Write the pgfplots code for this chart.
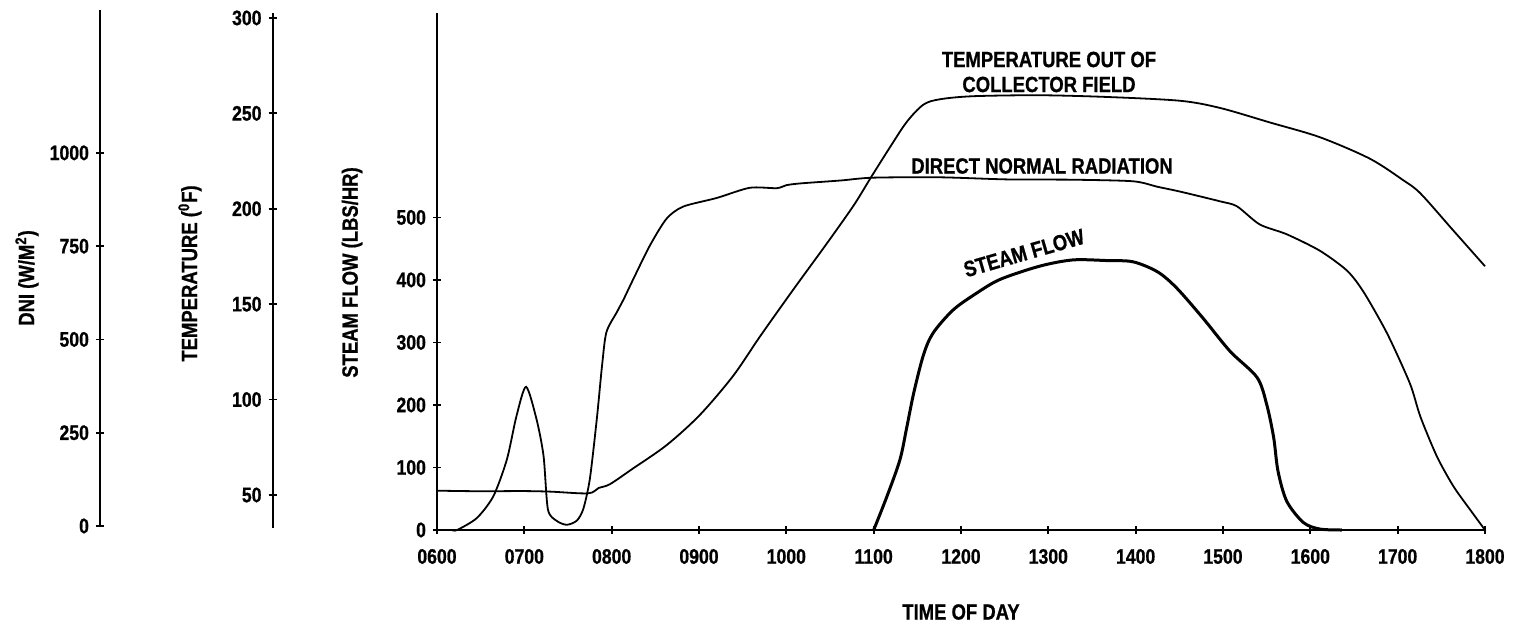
\documentclass[border=0pt]{standalone}
\usepackage{fontspec}
\setmainfont{Liberation Sans}[FakeStretch=0.84, BoldFeatures={FakeBold=0.8}]
\usepackage{pgfplots}
\pgfplotsset{compat=1.18}

% all three quantities share one plot box; 1 px of the reference = 0.5pt
\pgfplotsset{
  every axis/.append style={
    /pgf/number format/assume math mode=true,
    /pgf/number format/1000 sep={},
    tick label style={font=\fontsize{10.5}{12}\selectfont\bfseries},
    tick align=outside,
    major tick length=4pt,
    axis line style={line width=0.9pt},
    tick style={line width=0.9pt, black},
  },
  plotbox/.style={
    scale only axis, width=524pt, height=258.5pt,
    xmin=6, xmax=18, ymin=0, ymax=827,
    at={(218.5pt,48.5pt)}, anchor=south west, clip=false,
  },
  sideaxis/.style={
    scale only axis, width=1pt, anchor=south west,
    xmin=0, xmax=1,
    axis y line=left, axis x line=none, y axis line style={-},
  },
}

\pgfplotstableread{
h   steam
11.00 0
11.15 53
11.30 112
11.38 165
11.46 220
11.57 280
11.68 315
11.91 352
12.18 379
12.45 401
12.90 422
13.28 432
13.67 431
13.97 429
14.25 413
14.47 387
14.77 339
15.08 286
15.39 244
15.50 201
15.58 148
15.63 94
15.73 46
15.92 12
16.11 1.5
16.36 0
}\steamtable

\pgfplotstableread{
h   temp
6.00 52.6
6.50 52.3
6.98 52.4
7.30 52.1
7.73 51.2
7.85 54.0
7.98 56.0
8.24 64.1
8.63 76.5
9.01 92.3
9.39 112.7
9.70 133.5
10.08 158.0
10.46 181.9
10.77 202.0
10.96 216.1
11.19 232.8
11.38 245.9
11.57 254.9
11.76 257.7
12.14 259.3
12.90 259.8
13.67 258.9
14.51 256.9
14.97 253.1
15.54 245.5
16.11 237.8
16.68 226.6
17.06 215.4
17.26 208.4
17.63 189.3
18.00 170.2
}\temptable

\pgfplotstableread{
h   dni
6.17 0
6.23 0
6.455 31.7
6.645 90
6.80 188
6.91 304
7.02 382
7.14 295
7.22 197.5
7.27 55
7.37 24.5
7.485 13.9
7.60 24.8
7.675 56
7.75 136
7.83 296.5
7.89 439
7.94 528
8.06 581.5
8.14 617
8.25 670.6
8.44 760
8.63 831
8.82 863
9.20 885.7
9.58 913
9.89 912
10.00 920
10.16 924.7
10.62 932.5
10.99 940
11.76 941
12.53 935.4
13.28 934.6
13.97 930.4
14.25 915.7
14.51 902.8
14.97 876.7
15.16 863.6
15.42 815.3
15.73 789
16.11 745
16.42 692
16.61 635
16.88 524
17.14 391
17.26 302.4
17.45 195.8
17.64 116
17.83 54
18.00 0
}\dnitable

\begin{document}
\begin{tikzpicture}
\path[use as bounding box] (0,0) rectangle (758pt,313.5pt);

% DNI scale
\begin{axis}[sideaxis, height=258pt, at={(50pt,50.5pt)},
  ymin=0, ymax=1383, ytick={0,250,500,750,1000}]
\end{axis}

% temperature scale
\begin{axis}[sideaxis, height=257.5pt, at={(136.3pt,49.5pt)},
  ymin=32.7, ymax=302.6, ytick={50,100,...,300}]
\end{axis}

% main axis: steam flow
\begin{axis}[plotbox,
  axis lines=left, x axis line style={-}, y axis line style={-},
  ytick={0,100,...,500},
  xtick={6,...,18},
  xticklabels={0600,0700,0800,0900,1000,1100,1200,1300,1400,1500,1600,1700,1800},
  xticklabel style={yshift=-4pt},
]
\addplot[black, line width=1.5pt, smooth, tension=0.5] table[x=h, y=steam] {\steamtable};
\end{axis}

% temperature curve
\begin{axis}[plotbox, hide axis, ymin=32, ymax=302.9]
\addplot[black, line width=0.9pt, smooth, tension=0.5] table[x=h, y=temp] {\temptable};
\end{axis}

% direct normal radiation curve
\begin{axis}[plotbox, hide axis, ymin=0, ymax=1379.4]
\addplot[black, line width=0.9pt, smooth, tension=0.45] table[x=h, y=dni] {\dnitable};
\end{axis}

\begin{scope}[every node/.style={font=\fontsize{11}{12.5}\selectfont\bfseries}]
\node[rotate=90] at (13.5pt,174.5pt) {DNI (W/M\textsuperscript{2})};
\node[rotate=90] at (95pt,176.75pt) {TEMPERATURE (\textsuperscript{0}F)};
\node[rotate=90] at (176pt,177.25pt) {STEAM FLOW (LBS/HR)};
\node at (480.5pt,7.5pt) {TIME OF DAY};
\node[align=center] at (524.5pt,277.5pt) {TEMPERATURE OUT OF\\COLLECTOR FIELD};
\node at (521pt,230.5pt) {DIRECT NORMAL RADIATION};
\node[rotate=16, inner sep=0pt] at (512pt,187pt) {STEAM FLOW};
\end{scope}
\end{tikzpicture}
\end{document}
